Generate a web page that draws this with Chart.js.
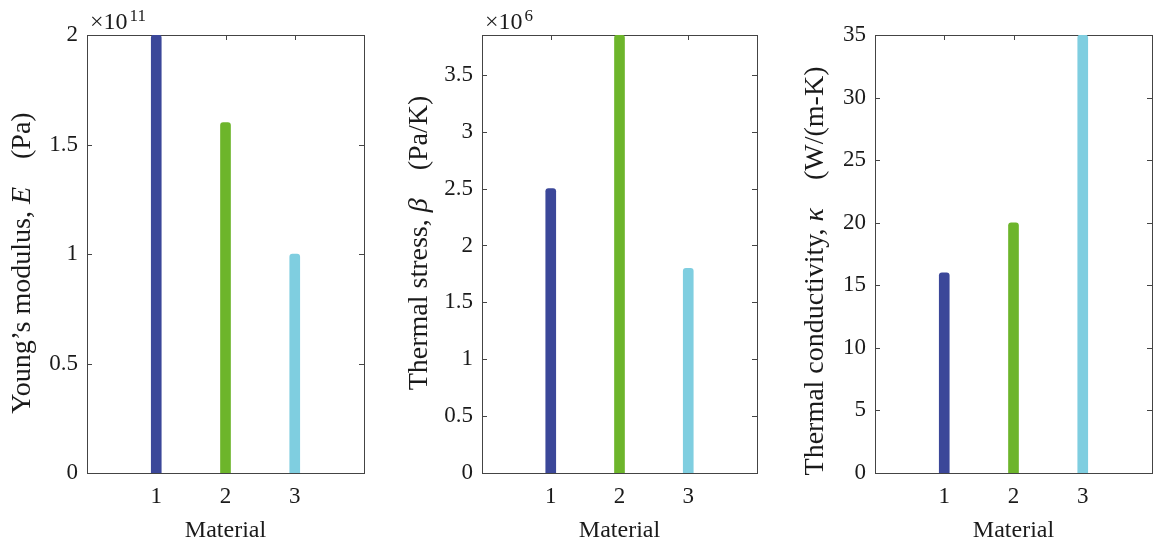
<!DOCTYPE html>
<html><head><meta charset="utf-8">
<script src="https://cdn.jsdelivr.net/npm/chart.js@4.4.1/dist/chart.umd.min.js"></script>
<style>
html,body{margin:0;padding:0;background:#fff;width:1156px;height:543px;overflow:hidden}
.p{position:absolute;top:0}
</style></head><body>
<div class="p" style="left:0px"><canvas id="c1" width="385" height="543"></canvas></div>
<div class="p" style="left:396px"><canvas id="c2" width="384" height="543"></canvas></div>
<div class="p" style="left:792px"><canvas id="c3" width="364" height="543"></canvas></div>
<script>
// ---- data ----
const materials = [1, 2, 3];
const xTicks = [1, 2, 3];
const xRange = [0, 4];
const youngsModulus = [2.0e11, 1.6e11, 1.0e11];
const thermalStress = [2.5e6, 3.85e6, 1.8e6];
const thermalConductivity = [16, 20, 35];
const yTicksE = [0, 0.5e11, 1.0e11, 1.5e11, 2.0e11];
const yTicksBeta = [0, 0.5e6, 1.0e6, 1.5e6, 2.0e6, 2.5e6, 3.0e6, 3.5e6];
const yTicksKappa = [0, 5, 10, 15, 20, 25, 30, 35];
const yMaxE = 2.0e11, yMaxBeta = 3.85e6, yMaxKappa = 35;
const expE = 11, expBeta = 6, expKappa = null;
const xLabel = 'Material';
const yLabelE = [['Young\u2019s modulus, ', false], ['E', true], ['\u2003(Pa)', false]];
const yLabelBeta = [['Thermal stress, ', false], ['\u03B2', true], ['\u2003(Pa/K)', false]];
const yLabelKappa = [['Thermal conductivity, ', false], ['\u03BA', true], ['\u2003(W/(m-K)', false]];
const barColors = ['#3B4799', '#6DB52B', '#7FCEE0'];

const FONT = 'Liberation Serif';
const TXT = '#1a1a1a';
const AX = '#444444';

function makePanel(id, values, yTicks, yMax, exp, yLabel, L) {
  const boxPlugin = {
    id: 'box' + id,
    beforeDatasetsDraw(chart) {
      const {ctx, chartArea: a, scales: {x, y}} = chart;
      ctx.save();
      ctx.strokeStyle = AX;
      ctx.lineWidth = 1;
      ctx.strokeRect(Math.round(a.left) + 0.5, Math.round(a.top) + 0.5,
        Math.round(a.right - a.left), Math.round(a.bottom - a.top));
      ctx.beginPath();
      const tl = 5;
      x.ticks.forEach(t => {
        const px = Math.round(x.getPixelForValue(t.value)) + 0.5;
        ctx.moveTo(px, a.bottom); ctx.lineTo(px, a.bottom - tl);
        ctx.moveTo(px, a.top); ctx.lineTo(px, a.top + tl);
      });
      y.ticks.forEach(t => {
        const py = Math.round(y.getPixelForValue(t.value)) + 0.5;
        ctx.moveTo(a.left, py); ctx.lineTo(a.left + tl, py);
        ctx.moveTo(a.right, py); ctx.lineTo(a.right - tl, py);
      });
      ctx.stroke();
      ctx.restore();
    },
    afterDraw(chart) {
      const {ctx, chartArea: a} = chart;
      ctx.save();
      ctx.fillStyle = TXT;
      // exponent label
      if (exp !== null) {
        ctx.textBaseline = 'alphabetic';
        ctx.textAlign = 'left';
        ctx.font = '24px "' + FONT + '"';
        const base = '\u00D710';
        const x0 = a.left + 3;
        ctx.fillText(base, x0, a.top - 6);
        const w = ctx.measureText(base).width;
        ctx.font = '17px "' + FONT + '"';
        ctx.fillText(String(exp), x0 + w + 2, a.top - 14);
      }
      // y title with italic symbol
      ctx.translate(L.titleX, (a.top + a.bottom) / 2 + L.titleDy);
      ctx.rotate(-Math.PI / 2);
      ctx.textBaseline = 'middle';
      ctx.textAlign = 'left';
      const fonts = yLabel.map(s => (s[1] ? 'italic ' : '') + L.titleSize + 'px "' + FONT + '"');
      let total = 0;
      const widths = yLabel.map((s, i) => { ctx.font = fonts[i]; const w = ctx.measureText(s[0]).width; total += w; return w; });
      let cx = -total / 2;
      yLabel.forEach((s, i) => { ctx.font = fonts[i]; ctx.fillText(s[0], cx, 0); cx += widths[i]; });
      ctx.restore();
    }
  };

  return new Chart(document.getElementById(id), {
    type: 'bar',
    data: {
      datasets: [{
        data: materials.map((m, i) => ({x: m, y: values[i]})),
        backgroundColor: barColors,
        barThickness: 10,
        borderRadius: 3,
        borderSkipped: 'start'
      }]
    },
    options: {
      responsive: false,
      animation: false,
      devicePixelRatio: 1,
      layout: {padding: {top: 35, right: L.rightPad, bottom: 0, left: 0}},
      plugins: {legend: {display: false}, tooltip: {enabled: false}},
      scales: {
        x: {
          type: 'linear', min: xRange[0], max: xRange[1], offset: false,
          afterBuildTicks: s => { s.ticks = xTicks.map(v => ({value: v})); },
          afterFit: s => { s.height = 70; },
          grid: {display: false, drawTicks: false, offset: false},
          border: {display: false},
          ticks: {autoSkip: false, maxRotation: 0, padding: 10, color: TXT,
                  font: {family: FONT, size: 23}, callback: v => String(v)},
          title: {display: true, text: xLabel, color: TXT,
                  font: {family: FONT, size: 24, lineHeight: 1}, padding: {top: 0, bottom: 0}}
        },
        y: {
          type: 'linear', min: 0, max: yMax,
          afterBuildTicks: s => { s.ticks = yTicks.map(v => ({value: v})); },
          afterFit: s => { s.width = L.axisW; },
          grid: {display: false, drawTicks: false},
          border: {display: false},
          ticks: {padding: 9, color: TXT, font: {family: FONT, size: 23},
                  callback: v => exp !== null ? String(+(v / Math.pow(10, exp)).toFixed(3)) : String(v)}
        }
      }
    },
    plugins: [boxPlugin]
  });
}

makePanel('c1', youngsModulus, yTicksE, yMaxE, expE, yLabelE,
  {axisW: 87, rightPad: 21, titleX: 23, titleDy: 9, titleSize: 28});
makePanel('c2', thermalStress, yTicksBeta, yMaxBeta, expBeta, yLabelBeta,
  {axisW: 86, rightPad: 23, titleX: 24, titleDy: -11, titleSize: 28});
makePanel('c3', thermalConductivity, yTicksKappa, yMaxKappa, expKappa, yLabelKappa,
  {axisW: 83, rightPad: 4, titleX: 24, titleDy: 17, titleSize: 28});
</script>
</body></html>
